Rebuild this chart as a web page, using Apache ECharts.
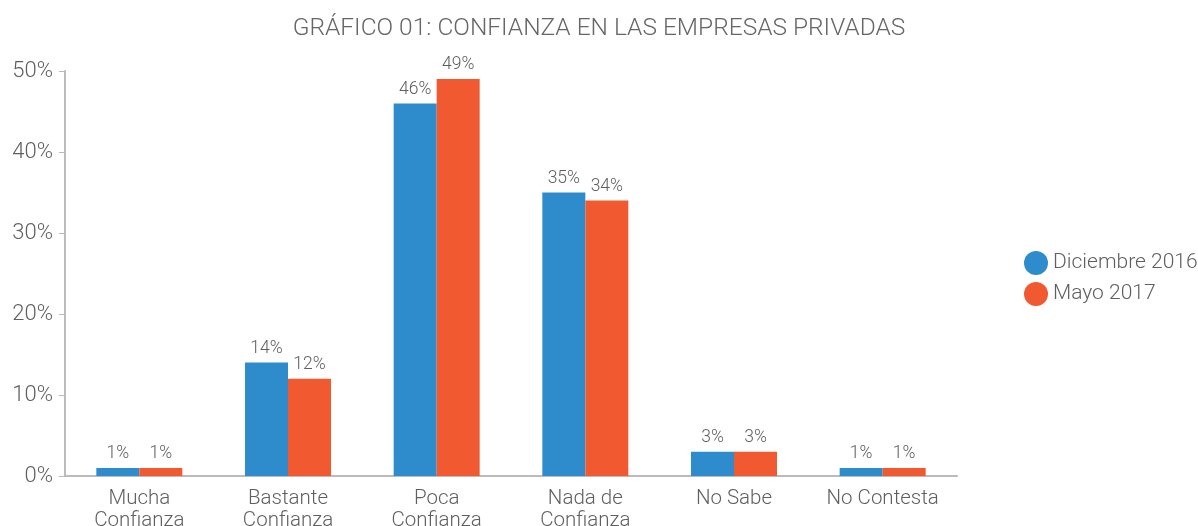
<!DOCTYPE html>
<html lang="es">
<head>
    <meta charset="utf-8">
    <style>
        html, body {
          margin: 0;
          padding: 0;
          background: #fff;
          overflow: hidden;
        }
        #container {
          width: 1198px;
          height: 526px;
        }
    </style>
</head>
<body>
<div id="container"></div>
<script type="text/javascript" src="https://cdn.jsdelivr.net/npm/echarts@6/dist/echarts.min.js"></script>
<script type="text/javascript">
  var categories = ['Mucha\nConfianza', 'Bastante\nConfianza', 'Poca\nConfianza', 'Nada de\nConfianza', 'No Sabe', 'No Contesta'];
  var dic2016 = [1, 14, 46, 35, 3, 1];
  var may2017 = [1, 12, 49, 34, 3, 1];
  var yTicks = [0, 10, 20, 30, 40, 50];

  var font = 'Roboto';
  var textColor = '#5f5f5f';

  var dom = document.getElementById('container');
  var myChart = echarts.init(dom, null, { renderer: 'canvas' });

  var labelStyle = {
    show: true,
    position: 'top',
    distance: 5,
    formatter: '{c}%',
    fontFamily: font,
    fontWeight: 300,
    fontSize: 17.5,
    color: textColor
  };

  var option = {
    title: {
      text: 'GRÁFICO 01: CONFIANZA EN LAS EMPRESAS PRIVADAS',
      left: 'center',
      top: 11,
      textStyle: {
        fontFamily: font,
        fontWeight: 300,
        fontSize: 24.5,
        color: '#666'
      }
    },
    legend: {
      orient: 'vertical',
      left: 1019,
      top: 246,
      icon: 'circle',
      itemWidth: 24,
      itemHeight: 24,
      itemGap: 7,
      textStyle: {
        fontFamily: font,
        fontWeight: 300,
        fontSize: 21,
        color: textColor
      },
      data: ['Diciembre 2016', 'Mayo 2017']
    },
    grid: {
      left: 65,
      width: 892,
      top: 71,
      height: 405,
      containLabel: false,
      outerBoundsMode: 'none'
    },
    xAxis: {
      type: 'category',
      data: categories,
      axisLine: { lineStyle: { color: '#bbb', width: 2 } },
      axisTick: { show: false },
      axisLabel: {
        fontFamily: font,
        fontWeight: 300,
        fontSize: 20.5,
        lineHeight: 22,
        color: textColor,
        margin: 12,
        interval: 0
      }
    },
    yAxis: {
      type: 'value',
      min: 0,
      max: 50,
      interval: 10,
      splitLine: { show: false },
      axisLine: { show: true, lineStyle: { color: '#bbb', width: 2 } },
      axisTick: { show: true, length: 6, lineStyle: { color: '#bbb' } },
      axisLabel: {
        formatter: function (v) { return yTicks.indexOf(v) >= 0 ? v + '%' : ''; },
        fontFamily: font,
        fontWeight: 300,
        fontSize: 22,
        color: textColor,
        margin: 12
      }
    },
    series: [{
      name: 'Diciembre 2016',
      type: 'bar',
      data: dic2016,
      barWidth: 43,
      barGap: '0%',
      itemStyle: { color: '#2e8bcc' },
      label: labelStyle
    }, {
      name: 'Mayo 2017',
      type: 'bar',
      data: may2017,
      barWidth: 43,
      barGap: '0%',
      itemStyle: { color: '#f15a31' },
      label: labelStyle
    }]
  };

  myChart.setOption(option);
</script>
</body>
</html>
